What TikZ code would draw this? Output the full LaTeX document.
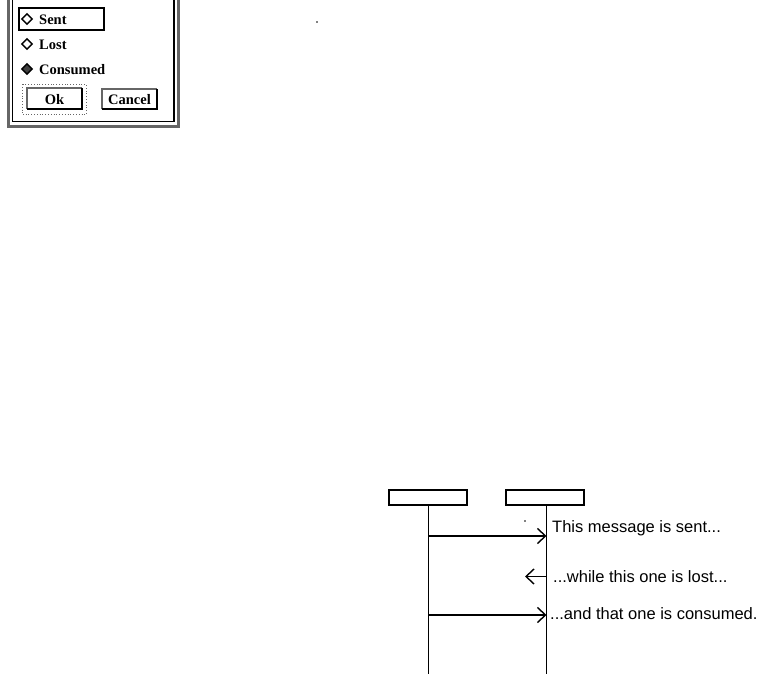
\documentclass[tikz,border=0pt]{standalone}
\usepackage{fontspec}
\setmainfont{Liberation Serif}
\newfontfamily\seqfont{Liberation Sans}
\usetikzlibrary{arrows.meta,positioning,shapes.geometric}
\tikzset{
  stip/.style={draw=black!60},
  optlabel/.style={anchor=west,inner sep=0pt,font=\fontsize{14.5}{14.5}\selectfont\bfseries},
  diam/.style={draw=black,line width=1.4pt,diamond,inner sep=0pt,minimum size=11pt},
  objbox/.style={draw=black,line width=1.3pt,minimum width=78pt,minimum height=15pt,inner sep=0pt},
  life/.style={line width=1pt},
  msg/.style={line width=1.8pt,-{Straight Barb[length=8pt,width=15pt,line width=1.4pt]}},
  lostmsg/.style={line width=1pt,-{Straight Barb[length=8pt,width=15pt,line width=1.4pt]}},
  msglabel/.style={anchor=west,inner sep=0pt,font=\seqfont\fontsize{16.5}{16.5}\selectfont},
}
\begin{document}
\begin{tikzpicture}[x=1pt,y=-1pt]
\useasboundingbox (0,0) rectangle (764,682);
% dialog frame
\draw[stip,line width=3.5pt] (8.7,0) -- (8.7,126.3) -- (178.5,126.3) -- (178.5,0);
\draw[line width=1.2pt] (12.5,0) -- (12.5,121.3) -- (174,121.3) -- (174,0);
% options
\node[draw=black,line width=2pt,minimum width=85pt,minimum height=22pt,inner sep=0pt] (sentbox) at (61.5,19) {};
\node[diam,fill=white] (d1) at (27,19) {};
\node[diam,fill=white] (d2) at (27,44) {};
\node[diam,fill=black!75] (d3) at (27,69) {};
\node[optlabel] (t1) at (39,20) {Sent};
\node[optlabel] (t2) at (39,45) {Lost};
\node[optlabel] (t3) at (39,70) {Consumed};
% Ok button
\draw[stip,line width=0.8pt,dotted] (22,84.5) rectangle (86.5,114.5);
\draw[stip,line width=2pt] (27,109) -- (27,88.5) -- (82,88.5);
\draw[line width=2pt] (82,88.5) -- (82,109) -- (27,109);
\node[font=\fontsize{14.5}{14.5}\selectfont\bfseries,inner sep=0pt] (ok) at (54.5,100) {Ok};
% Cancel button
\draw[stip,line width=2pt] (102,109.5) -- (102,89.5) -- (157,89.5);
\draw[line width=2pt] (157,89.5) -- (157,109.5) -- (102,109.5);
\node[font=\fontsize{14.5}{14.5}\selectfont\bfseries,inner sep=0pt] (cancel) at (129.5,100) {Cancel};
% stray dots
\fill (317,22) circle (0.8pt);
\fill (525,521) circle (0.8pt);
% sequence diagram
\node[objbox] (objA) at (428,497.5) {};
\node[objbox] (objB) at (545,497.5) {};
\coordinate (endA) at (428,674);
\coordinate (endB) at (546,674);
\draw[life] (objA.south) -- (endA);
\draw[life] ([xshift=1pt]objB.south) -- (endB);
\coordinate (m1a) at (428,536);
\coordinate (m1b) at (546.5,536);
\coordinate (m2a) at (546,576.5);
\coordinate (m2b) at (525,576.5);
\coordinate (m3a) at (428,615);
\coordinate (m3b) at (546.5,615);
\draw[msg] (m1a) -- (m1b);
\draw[lostmsg] (m2a) -- (m2b);
\draw[msg] (m3a) -- (m3b);
\node[msglabel] (l1) at (552,528.5) {This message is sent...};
\node[msglabel] (l2) at (553,576.5) {...while this one is lost...};
\node[msglabel] (l3) at (550,613.5) {...and that one is consumed.};
\end{tikzpicture}
\end{document}
